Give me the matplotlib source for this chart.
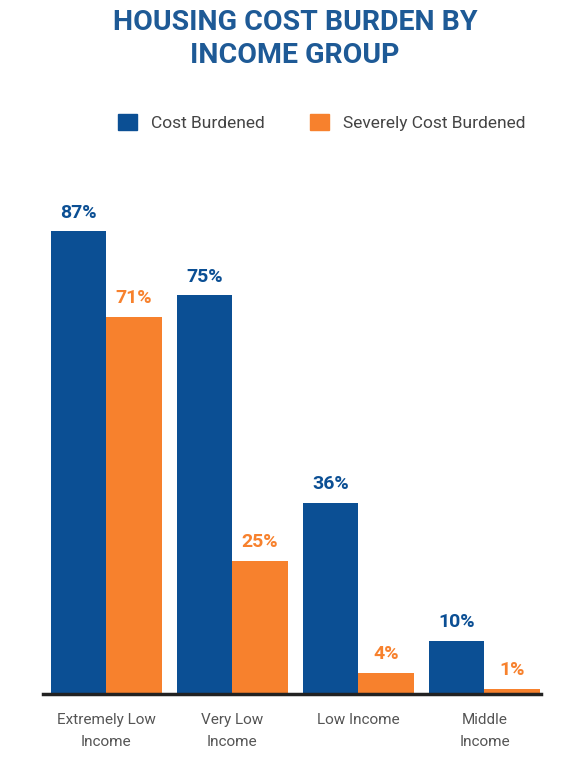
import matplotlib.pyplot as plt
import numpy as np
from matplotlib.patches import Patch

# data
groups = ["Extremely Low\nIncome", "Very Low\nIncome", "Low Income", "Middle\nIncome"]
cost_burdened = [87, 75, 36, 10]
severely_burdened = [71, 25, 4, 1]

BLUE = "#0b4f94"
ORANGE = "#f7812d"
TITLE = "#1e5a96"

plt.rcParams['font.family'] = ['Roboto', 'DejaVu Sans']

fig = plt.figure(figsize=(5.62, 7.65), dpi=100)
ax = fig.add_axes([0.0765, 0.0928, 0.8865, 0.695])

x = np.arange(len(groups))
w = 0.44
b1 = ax.bar(x - w / 2, cost_burdened, w, color=BLUE)
b2 = ax.bar(x + w / 2, severely_burdened, w, color=ORANGE)

for bars, vals, col in [(b1, cost_burdened, BLUE), (b2, severely_burdened, ORANGE)]:
    for r, v in zip(bars, vals):
        ax.annotate(f"{v}%", (r.get_x() + r.get_width() / 2, v),
                    xytext=(0, 7), textcoords="offset points",
                    ha="center", va="bottom", fontsize=14, fontweight="bold", color=col)

ax.set_xlim(-0.5, 3.45)
ax.set_ylim(0, 100)
ax.set_xticks(x)
ax.set_xticklabels(groups, fontsize=11, color="#555555", va="top", linespacing=1.7)
ax.tick_params(axis="x", length=0, pad=14)
ax.set_yticks([])
for s in ["top", "right", "left"]:
    ax.spines[s].set_visible(False)
ax.spines["bottom"].set_linewidth(2.5)
ax.spines["bottom"].set_color("#222222")

fig.text(0.525, 0.949, "HOUSING COST BURDEN BY\nINCOME GROUP", ha="center", va="center",
         fontsize=20.5, fontweight="bold", color=TITLE, linespacing=1.25)

handles = [Patch(color=BLUE, label="Cost Burdened"),
           Patch(color=ORANGE, label="Severely Cost Burdened")]
fig.legend(handles=handles, loc="center", bbox_to_anchor=(0.573, 0.84), ncol=2,
           frameon=False, fontsize=12.5, handlelength=1.1, handleheight=1.1,
           columnspacing=2.6, handletextpad=0.8, labelcolor="#444444")

fig.savefig("out.png", dpi=100, facecolor="white")
